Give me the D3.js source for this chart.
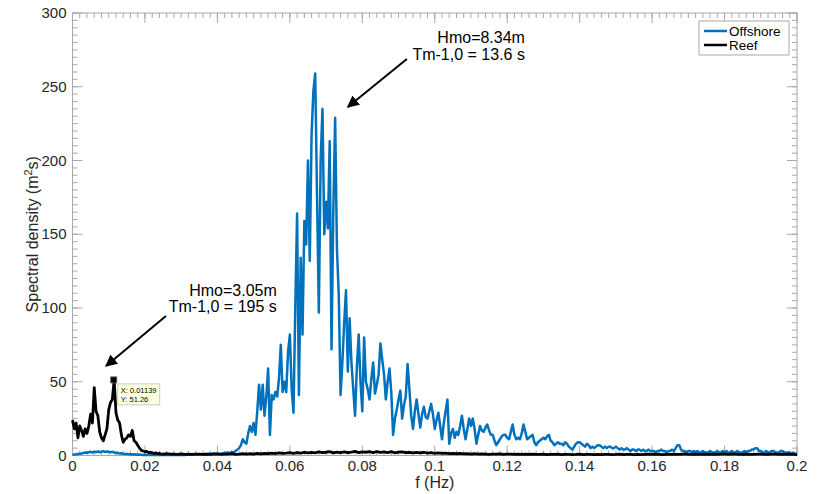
<!DOCTYPE html>
<html>
<head>
<meta charset="utf-8">
<script src="https://cdn.jsdelivr.net/npm/d3@7"></script>
<style>
  body { margin: 0; background: #fff; }
  svg { font-family: "Liberation Sans", Arial, Helvetica, sans-serif; }
</style>
</head>
<body>
<svg id="chart" width="819" height="494"></svg>
<script>
// spectra
const dfOff = 0.0005;
const offshore = [
  0.5,0.6,0.8,1,1.2,1.4,1.7,2,1.8,2.2,2.5,2,2.6,2.3,2.8,2.2,2.6,2.9,2.4,2.7,
  2.5,2.1,2.6,2,1.6,1.9,1.3,1.5,1.1,1,1.1,0.8,0.9,0.7,0.8,0.7,0.5,0.6,0.5,0.4,
  0.5,0.4,0.3,0.5,0.4,0.3,0.4,0.3,0.4,0.3,0.3,0.4,0.3,0.3,0.4,0.3,0.3,0.4,0.5,0.4,
  0.4,0.5,0.4,0.6,0.5,0.6,0.5,0.7,0.6,0.8,0.7,0.9,0.8,1,0.9,1.1,1.3,1.1,1.5,1.2,
  1,1,1.2,1.5,1.5,2,2,1.5,2.5,2,3,4,5,7,11,9,8,15,20,16,
  22,14,30,48,31,48,27,40,59,14,41,38,43,40,52,75,43,50,43,70,
  82,45,29,100,164,41,134,82,159,143,200,132,218,247,259,177,97,200,235,150,
  172,154,213,72,166,229,140,109,41,63,90,112,57,93,63,45,27,60,82,50,
  30,80,50,45,38,52,63,42,48,55,76,65,55,38,50,59,43,14,25,31,
  38,44,25,34,40,62,45,27,18,30,38,28,19,28,33,26,25,30,35,28,
  18,24,29,20,11,22,30,38,8,15,18,12,16,14,20,27,18,11,18,25,
  20,25,18,8,14,20,17,16,19,21,17,14,14,10,7,9,11,13,14,14,
  12,11,16,21,14,11,12,11,15,21,16,11,12,13,14,9,7,9,10,11,
  12,11,13,14,10,9,7,8,9,8,8,7,9,8,6,5,4,6,8,9,
  9,8,7,6,8,7,5,6,5,6,7,7,6,5,6,5,6,6,5,5,
  6,5,4,5,4,4,5,4,3,4,4,3,4,4,3,4,3,3,4,3,
  3,3,2,3,3,4,3,3,2,3,3,4,3,5,7,7,4,3,3,2,
  3,3,2,3,2,3,2,2,3,2,2,2,3,2,2,2,3,2,2,3,
  2,3,2,2,3,2,2,3,2,2,2,3,2,3,3,4,4,5,5,3,
  3,2,2,3,2,2,3,3,2,2,2,3,3,2,2,2,2,1,2,1,1
];

// reef: fine step below 0.025 Hz, coarser above
const dfReefLow = 0.0005;
const reefLow = [
  24,18,22,12,20,17,13,18,15,20,28,22,46,30,27,16,12,10,14,18,
  31,36,38,51.26,29,24,22,14,9,11,12,14,13,17,10,9,7,5,3.5,3,
  2.5,2.8,2,2.2,1.8,1.5,1.8,1.2,1.4,1,1
];
const reefHighStart = 0.026;
const dfReefHigh = 0.001;
const reefHigh = [
  1.2,0.9,1,0.8,1.1,0.7,0.9,0.8,1,0.9,
  0.8,1,0.7,0.9,1.1,0.8,1,0.9,1.2,0.8,
  1,1.3,0.9,1.2,1,1.4,1.1,1.5,1.2,1.6,
  1.3,1.8,1.4,1.6,1.9,1.5,2,1.6,2.2,1.7,
  2.1,1.8,2.4,1.9,2.2,2.6,1.8,2.3,2,2.5,
  1.9,2.3,2.8,2,2.4,2.2,2.6,1.9,2.7,2.1,
  2.4,2,2.6,1.8,2.3,2.5,1.9,2.2,1.7,2.1,
  1.8,2.2,1.6,1.9,1.5,1.8,1.4,1.6,1.3,1.5,
  1.2,1.4,1.1,1.3,1,1.2,0.9,1.1,1,0.8,
  1,0.9,1.1,0.8,0.9,1,0.7,0.9,0.8,1,
  0.7,0.9,0.8,0.7,0.9,0.6,0.8,0.7,0.9,0.6,
  0.7,0.8,0.6,0.7,0.9,0.6,0.7,0.8,0.6,0.7,
  0.6,0.8,0.7,0.6,0.7,0.9,0.6,0.7,0.8,0.6,
  0.7,0.6,0.8,1,0.7,0.9,0.8,0.6,0.7,0.8,
  0.9,0.7,0.8,1.1,0.8,0.7,0.9,0.8,0.7,0.9,
  0.8,1,0.7,0.9,1.1,0.8,1,0.9,0.7,0.8,
  0.9,0.7,0.8,1,0.9,0.7,0.8,0.9,1,0.8,
  0.9,0.8,1,0.7,0.6
];

const seriesNames = ['Offshore', 'Reef'];
const seriesColors = ['#0072BD', '#000000'];
const xTicks = [0, 0.02, 0.04, 0.06, 0.08, 0.1, 0.12, 0.14, 0.16, 0.18, 0.2];
const xTickLabels = ['0', '0.02', '0.04', '0.06', '0.08', '0.1', '0.12', '0.14', '0.16', '0.18', '0.2'];
const yTicks = [0, 50, 100, 150, 200, 250, 300];

// data tip + annotations (data units)
const tipPoint = { f: 0.01139, v: 51.26 };
const notes = [
  { lines: ['Hmo=8.34m', 'Tm-1,0 = 13.6 s'], f: 0.1249, v: [283.5, 271.8], from: [0.0923, 268.8], to: [0.0760, 236.3] },
  { lines: ['Hmo=3.05m', 'Tm-1,0 = 195 s'], f: 0.0564, v: [112.2, 100.7], from: [0.0258, 94.6], to: [0.00925, 60.7] }
];

const margin = { left: 72.5, right: 22, top: 13, bottom: 38.5 };
const W = 819, H = 494;
const svg = d3.select('#chart');
const x = d3.scaleLinear().domain([0, 0.2]).range([margin.left, W - margin.right]);
const y = d3.scaleLinear().domain([0, 300]).range([H - margin.bottom, margin.top]);

const offPts = offshore.map((v, i) => [i * dfOff, v]);
const reefPts = reefLow.map((v, i) => [i * dfReefLow, v])
  .concat(reefHigh.map((v, i) => [reefHighStart + i * dfReefHigh, v]));

const tickCol = '#a8a8a8';
const textCol = '#262626';

// frame
svg.append('rect')
  .attr('x', x(0)).attr('y', y(300))
  .attr('width', x(0.2) - x(0)).attr('height', y(0) - y(300))
  .attr('fill', 'none').attr('stroke', tickCol).attr('stroke-width', 1);

const minorX = d3.range(0, 101).map(i => i * 0.002);
const minorY = d3.range(0, 61).map(i => i * 5);

function drawTicks(vals, len, side) {
  const g = svg.append('g').attr('stroke', tickCol).attr('stroke-width', 1);
  vals.forEach(v => {
    if (side === 'bottom') g.append('line').attr('x1', x(v)).attr('x2', x(v)).attr('y1', y(0)).attr('y2', y(0) - len);
    if (side === 'top') g.append('line').attr('x1', x(v)).attr('x2', x(v)).attr('y1', y(300)).attr('y2', y(300) + len);
    if (side === 'left') g.append('line').attr('y1', y(v)).attr('y2', y(v)).attr('x1', x(0)).attr('x2', x(0) + len);
    if (side === 'right') g.append('line').attr('y1', y(v)).attr('y2', y(v)).attr('x1', x(0.2)).attr('x2', x(0.2) - len);
  });
}
['bottom', 'top'].forEach(s => { drawTicks(minorX, 5, s); drawTicks(xTicks, 10, s); });
['left', 'right'].forEach(s => { drawTicks(minorY, 5, s); drawTicks(yTicks, 10, s); });

// tick labels
svg.append('g').selectAll('text').data(xTicks).join('text')
  .attr('x', d => x(d)).attr('y', y(0) + 15)
  .attr('text-anchor', 'middle').attr('font-size', 15).attr('fill', textCol)
  .text((d, i) => xTickLabels[i]);
svg.append('g').selectAll('text').data(yTicks).join('text')
  .attr('x', x(0) - 6).attr('y', d => y(d) + 5)
  .attr('text-anchor', 'end').attr('font-size', 15).attr('fill', textCol)
  .text(d => d);

svg.append('text')
  .attr('x', (x(0) + x(0.2)) / 2).attr('y', 488)
  .attr('text-anchor', 'middle').attr('font-size', 16).attr('fill', textCol)
  .text('f (Hz)');

const yl = svg.append('text')
  .attr('transform', `translate(38,${(y(0) + y(300)) / 2}) rotate(-90)`)
  .attr('text-anchor', 'middle').attr('font-size', 16).attr('fill', textCol);
yl.append('tspan').text('Spectral density (m');
yl.append('tspan').attr('font-size', 11).attr('dy', -6).text('2');
yl.append('tspan').attr('dy', 6).text('s)');

// lines
const line = d3.line().x(d => x(d[0])).y(d => y(d[1]));
const plot = svg.append('g');
plot.append('path').datum(offPts)
  .attr('d', line).attr('fill', 'none')
  .attr('stroke', seriesColors[0]).attr('stroke-width', 2.5).attr('stroke-linejoin', 'round');
plot.append('path').datum(reefPts)
  .attr('d', line).attr('fill', 'none')
  .attr('stroke', seriesColors[1]).attr('stroke-width', 2.8).attr('stroke-linejoin', 'round');

// arrows
svg.append('defs').append('marker')
  .attr('id', 'arrow').attr('viewBox', '0 0 10 10')
  .attr('refX', 9).attr('refY', 5)
  .attr('markerWidth', 6).attr('markerHeight', 6)
  .attr('markerUnits', 'strokeWidth').attr('orient', 'auto')
  .append('path').attr('d', 'M0,0 L10,5 L0,10 Z').attr('fill', '#000');

notes.forEach(n => {
  n.lines.forEach((t, i) => {
    svg.append('text')
      .attr('x', x(n.f)).attr('y', y(n.v[i]) + 5.5)
      .attr('text-anchor', 'end').attr('font-size', 16).attr('fill', '#000')
      .text(t);
  });
  svg.append('line')
    .attr('x1', x(n.from[0])).attr('y1', y(n.from[1]))
    .attr('x2', x(n.to[0])).attr('y2', y(n.to[1]))
    .attr('stroke', '#000').attr('stroke-width', 2)
    .attr('marker-end', 'url(#arrow)');
});

// data tip
const tx = x(tipPoint.f), ty = y(tipPoint.v);
svg.append('rect')
  .attr('x', tx - 3).attr('y', ty - 3).attr('width', 6).attr('height', 6)
  .attr('fill', '#000').attr('stroke', '#555').attr('stroke-width', 0.8);
svg.append('rect')
  .attr('x', tx + 4).attr('y', ty + 4).attr('width', 42).attr('height', 21)
  .attr('fill', '#ffffe1').attr('stroke', '#bdbdbd').attr('stroke-width', 0.8);
svg.append('text').attr('x', tx + 7).attr('y', ty + 13)
  .attr('font-size', 7.5).attr('fill', '#000').text('X: ' + tipPoint.f);
svg.append('text').attr('x', tx + 7).attr('y', ty + 22)
  .attr('font-size', 7.5).attr('fill', '#000').text('Y: ' + tipPoint.v);

// legend
const lg = svg.append('g').attr('transform', 'translate(699,21)');
lg.append('rect').attr('width', 90).attr('height', 34)
  .attr('fill', '#fff').attr('stroke', tickCol).attr('stroke-width', 1);
seriesNames.forEach((name, i) => {
  const yy = 10 + i * 14;
  lg.append('line').attr('x1', 5).attr('x2', 28).attr('y1', yy).attr('y2', yy)
    .attr('stroke', seriesColors[i]).attr('stroke-width', 2.5);
  lg.append('text').attr('x', 30).attr('y', yy + 4.5)
    .attr('font-size', 13.5).attr('fill', '#000').text(name);
});
</script>
</body>
</html>
